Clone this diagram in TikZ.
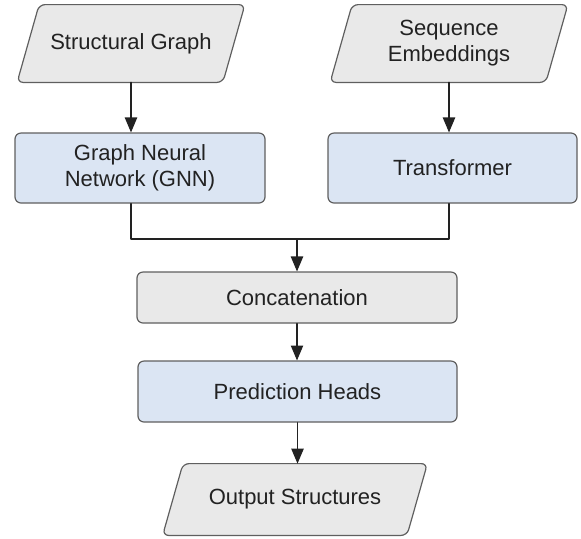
\documentclass[tikz,border=0pt]{standalone}
\usepackage{fontspec}
\setmainfont{Liberation Sans}
\usepackage{tikz}
\usetikzlibrary{arrows}
\usetikzlibrary{backgrounds}
\definecolor{boxgray}{RGB}{233,233,233}
\definecolor{boxblue}{RGB}{219,229,243}
\definecolor{edgegray}{RGB}{95,95,95}
\definecolor{inkgray}{RGB}{34,34,34}
\begin{document}
\begin{tikzpicture}[line cap=round,line join=round,>=triangle 45,x=0.5pt,y=-0.5pt,
  font=\fontsize{11}{13}\selectfont,
  databox/.style={rectangle,text=inkgray,align=center,inner sep=0pt},
  dataedge/.style={draw=edgegray,fill=boxgray,line width=0.6pt,rounded corners=3pt},
  gnnbox/.style={rectangle,draw=edgegray,fill=boxblue,line width=0.6pt,
    rounded corners=3pt,text=inkgray,align=center,inner sep=0pt},
  catbox/.style={gnnbox,fill=boxgray},
  flow/.style={->,draw=inkgray,line width=0.7pt}]
\useasboundingbox (0,0) rectangle (581,538);
% inputs
\node[databox,minimum width=102.5pt,minimum height=38.5pt] (sg) at (131,43.5) {Structural Graph};
\node[databox,minimum width=107.5pt,minimum height=38.5pt] (se) at (449,43.5) {Sequence\\Embeddings};
% encoders
\node[gnnbox,minimum width=125pt,minimum height=35pt] (gnn) at (140,168) {Graph Neural\\Network (GNN)};
\node[gnnbox,minimum width=124.5pt,minimum height=35pt] (tr) at (452.5,168) {Transformer};
% fusion and heads
\node[catbox,minimum width=160pt,minimum height=25.5pt] (cat) at (297,297.5) {Concatenation};
\node[gnnbox,minimum width=159.5pt,minimum height=30.5pt] (ph) at (297.5,391.5) {Prediction Heads};
\node[databox,minimum width=121.8pt,minimum height=35.5pt] (out) at (295,499.5) {Output Structures};
% slanted outlines of the data nodes
\begin{scope}[on background layer]
\foreach \n/\s in {sg/5.5pt,se/5.5pt,out/5.1pt}
  \path[dataedge] ([xshift=-\s]\n.south west) -- ([xshift=\s]\n.north west)
    -- ([xshift=\s]\n.north east) -- ([xshift=-\s]\n.south east) -- cycle;
\end{scope}
\coordinate (mrg) at (297,239);
% connectors
\draw[flow] (sg.south) -- (sg.south |- gnn.north);
\draw[flow] (se.south) -- (se.south |- tr.north);
\draw[inkgray,line width=0.7pt] (sg.south |- gnn.south) |- (mrg) -| (se.south |- tr.south);
\draw[flow] (mrg) -- (cat.north);
\draw[flow] (cat.south) -- (cat.south |- ph.north);
\draw[flow] (ph.south) -- (ph.south |- out.north);
\end{tikzpicture}
\end{document}
